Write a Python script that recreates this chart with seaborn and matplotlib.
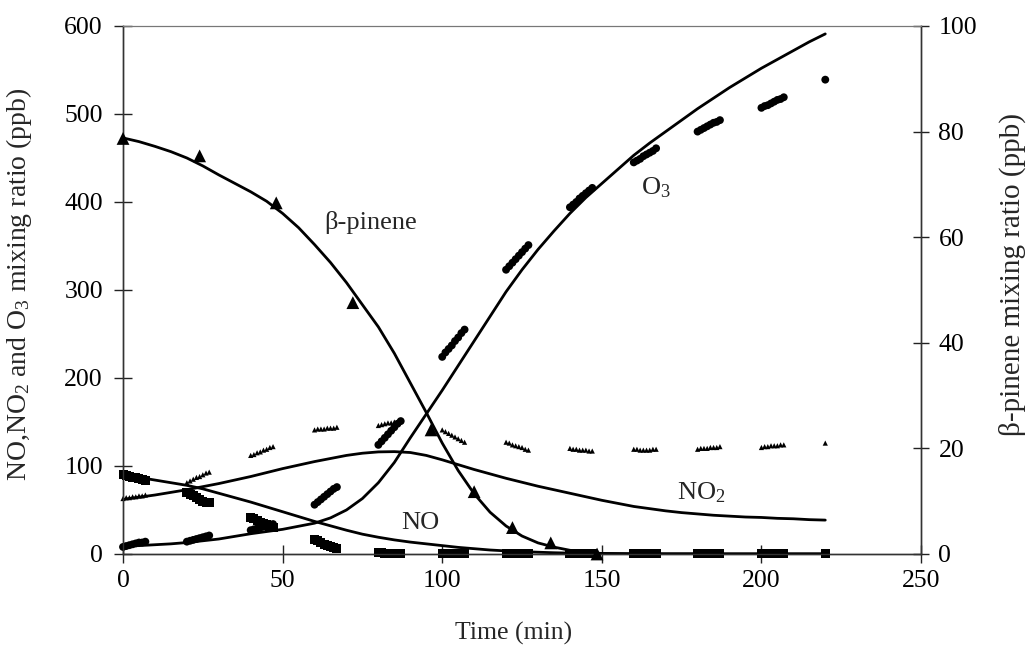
import numpy as np
import pandas as pd
import matplotlib
matplotlib.use("Agg")
import matplotlib.pyplot as plt
import seaborn as sns

# ---- model curves (5-min grid) ----
model_time = [0, 5, 10, 15, 20, 25, 30, 35, 40, 45, 50, 55, 60, 65, 70, 75, 80, 85, 90,
              95, 100, 105, 110, 115, 120, 125, 130, 135, 140, 145, 150, 155, 160, 165,
              170, 175, 180, 185, 190, 195, 200, 205, 210, 215, 220]
model_pinene = [78.8, 78.1, 77.2, 76.2, 75.0, 73.5, 71.8, 70.2, 68.6, 66.8, 64.5, 61.8,
                58.6, 55.2, 51.4, 47.2, 43.0, 38.0, 32.4, 26.8, 21.0, 15.8, 11.4, 7.9,
                5.3, 3.4, 2.1, 1.3, 0.7, 0.3, 0.1, 0.05, 0.0, 0.0, 0.0, 0.0, 0.0, 0.0,
                0.0, 0.0, 0.0, 0.0, 0.0, 0.0, 0.0]
model_o3 = [9, 9.5, 10.5, 11.5, 13, 15, 17, 20, 23, 25.5, 28, 31.5, 35, 41, 50, 63, 81,
            104, 132, 159, 186, 214, 242, 270, 298, 323, 346, 367, 387, 405, 421, 437,
            453, 467, 480, 493, 506, 518, 530, 541, 552, 562, 572, 582, 591]
model_no2 = [62, 64.5, 67, 70, 73, 76.5, 80, 84, 88, 92.5, 97, 101, 105, 108.5, 112,
             114.5, 116, 116.3, 115.3, 112, 107, 101.5, 96, 91, 86, 81.5, 77, 73, 69, 65,
             61, 57.5, 54, 51.5, 49, 47, 45.5, 44, 43, 42, 41.5, 40.5, 40, 39, 38.5]
model_no = [90, 87, 84, 81, 78, 74, 69, 64, 59, 53.5, 48, 42.5, 37, 32, 27, 22.5, 19,
            16, 13.5, 11.5, 9.5, 7.5, 6, 4.5, 3.5, 2.7, 2, 1.4, 1, 0.7, 0.5, 0.4, 0.3,
            0.3, 0.2, 0.2, 0.2, 0.1, 0.1, 0.1, 0.1, 0.1, 0.1, 0.1, 0.1]

# ---- beta-pinene measurements (right axis) ----
pinene_time = [0, 24, 48, 72, 96.5, 110, 122, 134, 148.5]
pinene_obs = [78.7, 75.4, 66.5, 47.6, 23.5, 11.8, 5.0, 2.1, 0.0]

# ---- NOx / O3 analyser readings: 1-min samples in 8-min blocks ----
obs_time = ([0, 1, 2, 3, 4, 5, 6, 7] + [20, 21, 22, 23, 24, 25, 26, 27]
            + [40, 41, 42, 43, 44, 45, 46, 47] + [60, 61, 62, 63, 64, 65, 66, 67]
            + [80, 81, 82, 83, 84, 85, 86, 87] + [100, 101, 102, 103, 104, 105, 106, 107]
            + [120, 121, 122, 123, 124, 125, 126, 127] + [140, 141, 142, 143, 144, 145, 146, 147]
            + [160, 161, 162, 163, 164, 165, 166, 167] + [180, 181, 182, 183, 184, 185, 186, 187]
            + [200, 201, 202, 203, 204, 205, 206, 207] + [220])
obs_o3 = ([8, 9, 10, 11, 12, 13, 13, 14] + [14, 15, 16, 17, 18, 19, 20, 21]
          + [27, 28, 29, 30, 31, 32, 33, 34] + [56, 59, 62, 65, 68, 71, 74, 76]
          + [124, 128, 132, 136, 140, 144, 148, 151] + [224, 229, 233, 237, 242, 246, 251, 255]
          + [323, 327, 331, 335, 339, 343, 347, 351] + [394, 397, 400, 404, 407, 410, 413, 416]
          + [445, 447, 449, 452, 454, 456, 458, 461] + [480, 482, 484, 486, 488, 490, 491, 493]
          + [507, 509, 510, 512, 514, 516, 517, 519] + [539])
obs_no2 = ([63, 64, 64, 65, 65, 66, 66, 67] + [81, 83, 85, 87, 88, 90, 92, 93]
           + [112, 113, 115, 116, 118, 119, 121, 122] + [141, 142, 142, 142, 143, 143, 143, 144]
           + [146, 147, 148, 149, 149, 150, 150, 151] + [141, 139, 137, 135, 133, 131, 129, 127]
           + [127, 126, 124, 123, 122, 121, 119, 118] + [120, 119, 119, 118, 118, 118, 117, 117]
           + [119, 119, 118, 118, 118, 118, 119, 119] + [119, 120, 120, 120, 121, 121, 121, 122]
           + [121, 122, 122, 123, 123, 123, 124, 124] + [126])
obs_no = ([90, 89, 88, 87, 87, 86, 85, 84] + [70, 68, 66, 64, 62, 60, 59, 58]
          + [42, 40, 38, 36, 35, 33, 31, 30] + [17, 15, 13, 11, 10, 8, 7, 6]
          + [2, 2, 1, 1, 1, 1, 1, 1] + [1, 1, 1, 0, 0, 0, 0, 0]
          + [0, 0, 0, 0, 0, 0, 0, 0] + [0, 0, 0, 0, 0, 0, 0, 0]
          + [0, 0, 0, 0, 0, 0, 0, 0] + [0, 0, 0, 0, 0, 0, 0, 0]
          + [0, 0, 0, 0, 0, 0, 0, 0] + [0])

sns.set_theme(style="ticks")
plt.rcParams["font.family"] = ["Liberation Serif", "DejaVu Serif"]
plt.rcParams["mathtext.fontset"] = "custom"
plt.rcParams["mathtext.rm"] = "Liberation Serif"
plt.rcParams["mathtext.it"] = "Liberation Serif:italic"

fig = plt.figure(figsize=(10.26, 6.48), dpi=100)
ax = fig.add_axes([0.1199, 0.1451, 0.7778, 0.8148])
ax2 = ax.twinx()

obs = pd.DataFrame({"t": obs_time, "o3": obs_o3, "no2": obs_no2, "no": obs_no})
mod = pd.DataFrame({"t": model_time, "o3": model_o3, "no2": model_no2,
                    "no": model_no, "pin": model_pinene})
pin = pd.DataFrame({"t": pinene_time, "pin": pinene_obs})

lw = 2.0
for col in ["o3", "no2", "no"]:
    sns.lineplot(data=mod, x="t", y=col, ax=ax, color="black", linewidth=lw,
                 estimator=None, sort=False)

sns.scatterplot(data=obs, x="t", y="no", ax=ax, marker="s", s=42, color="black",
                edgecolor="none", clip_on=False, zorder=4)
sns.scatterplot(data=obs, x="t", y="o3", ax=ax, marker="o", s=32, color="black",
                edgecolor="none", clip_on=False, zorder=4)
sns.scatterplot(data=obs, x="t", y="no2", ax=ax, marker="^", s=14, color="black",
                edgecolor="none", clip_on=False, zorder=4)

sns.lineplot(data=mod, x="t", y="pin", ax=ax2, color="black", linewidth=lw,
             estimator=None, sort=False)
sns.scatterplot(data=pin, x="t", y="pin", ax=ax2, marker="^", s=85, color="black",
                edgecolor="none", clip_on=False, zorder=4)

ax.set_xlim(0, 250)
ax.set_ylim(0, 600)
ax2.set_ylim(0, 100)
ax.set_xticks([0, 50, 100, 150, 200, 250])
ax.set_yticks([0, 100, 200, 300, 400, 500, 600])
ax2.set_yticks([0, 20, 40, 60, 80, 100])

fs_tick = 18.5
ax.tick_params(axis="both", direction="inout", length=13, width=1.0, colors="#222222",
               labelsize=fs_tick, labelcolor="black", pad=5)
ax.tick_params(axis="y", pad=8)
ax2.tick_params(axis="y", direction="inout", length=11, width=1.0, colors="#222222",
                labelsize=fs_tick, labelcolor="black", pad=7)

ax.set_xlabel("Time (min)", fontsize=fs_tick)
ax.set_ylabel("NO,NO$_2$ and O$_3$ mixing ratio (ppb)", fontsize=20)
ax2.set_ylabel("β-pinene mixing ratio (ppb)", fontsize=21)
ax.xaxis.set_label_coords(0.49, -0.128)
ax.yaxis.set_label_coords(-0.112, 0.51)
ax2.yaxis.set_label_coords(1.097, 0.53)

for a in (ax, ax2):
    for side in ["left", "right", "bottom", "top"]:
        a.spines[side].set_visible(True)
        a.spines[side].set_linewidth(1.0)
        a.spines[side].set_color("#333333")
    a.spines["top"].set_color("#777777")
    a.spines["top"].set_linewidth(0.8)

fs_ann = 19
ax.text(77.7, 377, "β-pinene", fontsize=fs_ann, ha="center", va="center")
ax.text(166.8, 416, "O$_3$", fontsize=fs_ann, ha="center", va="center")
ax.text(181, 70, "NO$_2$", fontsize=fs_ann, ha="center", va="center")
ax.text(93, 35, "NO", fontsize=fs_ann, ha="center", va="center")

fig.savefig("out.png", dpi=100)
